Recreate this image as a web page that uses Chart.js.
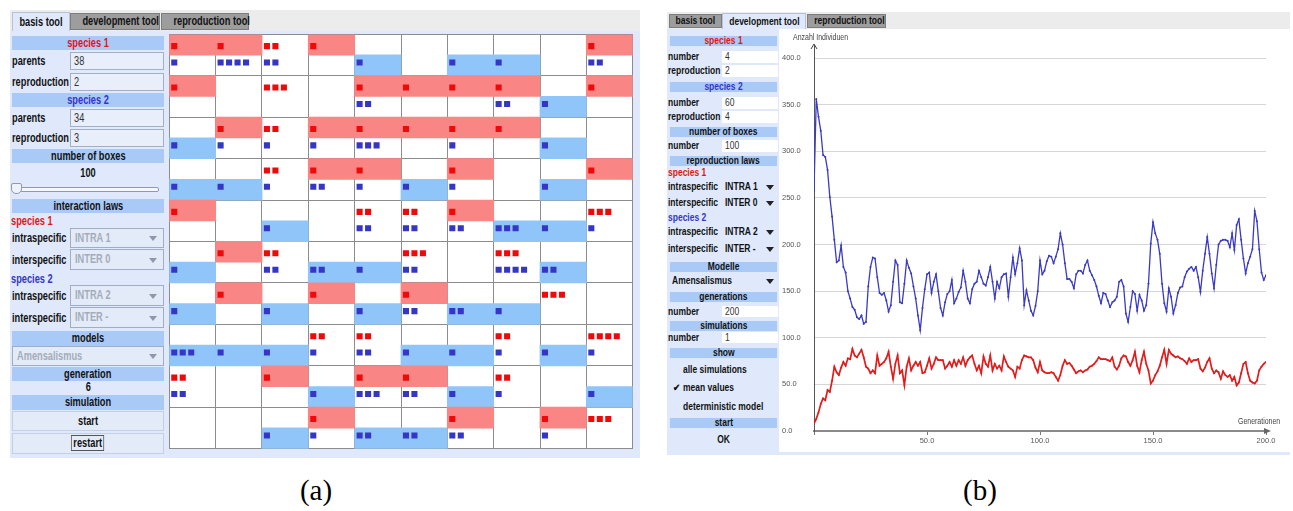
<!DOCTYPE html>
<html><head><meta charset="utf-8">
<script src="https://cdn.jsdelivr.net/npm/chart.js@4.4.1/dist/chart.umd.min.js"></script>
<style>
body{margin:0;width:1293px;height:511px;background:#fff;position:relative;overflow:hidden;
 font-family:"Liberation Sans",Arial,sans-serif;}
.abs{position:absolute;box-sizing:border-box;white-space:nowrap;}
.fa{font-weight:bold;font-size:12px;color:#111;}
.fb{font-weight:bold;font-size:10px;color:#111;}
.hdr{background:#a9c9f7;text-align:center;}
.tab{background:#9d9d9d;border:1px solid #7d7d7d;text-align:center;}
.tabSel{background:#dfe9fb;border:1px solid #b5c1d4;border-bottom:none;text-align:center;}
.inp{background:#e9effa;border:1px solid #a3afc2;font-weight:normal;color:#333;padding-left:3px;}
.inpb{background:#fff;font-weight:normal;color:#333;padding-left:3px;}
.dd{background:#e4ebf8;border:1px solid #a0adc2;color:#a3abb9;padding-left:4px;}
.arr{position:absolute;right:6px;top:50%;margin-top:-2px;width:0;height:0;border-left:4px solid transparent;border-right:4px solid transparent;border-top:5px solid #8e98aa;}
.arrb{position:absolute;right:4px;top:50%;margin-top:-2px;width:0;height:0;border-left:4px solid transparent;border-right:4px solid transparent;border-top:5px solid #222;}
.btn{background:#e3ebf9;border:1px solid #c3cfe2;text-align:center;}
.cap{font-family:"Liberation Serif","DejaVu Serif",serif;font-size:29px;color:#000;text-align:center;}
.tl{font-family:"Liberation Sans",Arial,sans-serif;font-size:8.5px;color:#444;}
.n{display:inline-block;}
</style>
</head><body>

<!-- ============ Panel (a) ============ -->
<div class="abs" style="left:10px;top:10px;width:630px;height:21px;background:#ececec"></div>
<div class="abs fa tabSel" style="left:12px;top:12px;width:58px;height:19px;line-height:18px;">basis tool</div>
<div class="abs fa tab" style="left:70px;top:13px;width:90px;height:17px;line-height:15px;">development tool</div>
<div class="abs fa tab" style="left:161px;top:13px;width:88px;height:17px;line-height:15px;">reproduction tool</div>
<div class="abs" style="left:10px;top:31px;width:630px;height:427px;background:#dfe9fb"></div>

<div class="abs fa hdr" style="left:12px;top:36px;width:152px;height:14px;line-height:14px;color:#e41414;">species 1</div>
<div class="abs fa" style="left:12px;top:52px;height:18px;line-height:18px;">parents</div>
<div class="abs fa inp" style="left:70px;top:52px;width:94px;height:18px;line-height:16px;">38</div>
<div class="abs fa" style="left:12px;top:73px;height:18px;line-height:18px;">reproduction</div>
<div class="abs fa inp" style="left:70px;top:73px;width:94px;height:18px;line-height:16px;">2</div>
<div class="abs fa hdr" style="left:12px;top:93px;width:152px;height:14px;line-height:14px;color:#3535c8;">species 2</div>
<div class="abs fa" style="left:12px;top:109px;height:18px;line-height:18px;">parents</div>
<div class="abs fa inp" style="left:70px;top:109px;width:94px;height:18px;line-height:16px;">34</div>
<div class="abs fa" style="left:12px;top:129px;height:18px;line-height:18px;">reproduction</div>
<div class="abs fa inp" style="left:70px;top:129px;width:94px;height:18px;line-height:16px;">3</div>
<div class="abs fa hdr" style="left:12px;top:149px;width:152px;height:14px;line-height:14px;">number of boxes</div>
<div class="abs fa" style="left:12px;top:166px;width:152px;height:14px;line-height:14px;text-align:center;">100</div>
<div class="abs" style="left:20px;top:187px;width:139px;height:5px;border:1px solid #8f9ab0;background:#f5f7fb;border-radius:2px;"></div>
<div class="abs" style="left:11px;top:183px;width:11px;height:11px;border:1px solid #8f9ab0;background:#eef2f9;border-radius:2px 2px 5px 5px;"></div>
<div class="abs fa hdr" style="left:12px;top:199px;width:152px;height:14px;line-height:14px;">interaction laws</div>
<div class="abs fa" style="left:11px;top:214px;height:14px;line-height:14px;color:#e41414;">species 1</div>
<div class="abs fa" style="left:12px;top:229px;height:19px;line-height:19px;">intraspecific</div>
<div class="abs fa dd" style="left:70px;top:228px;width:94px;height:20px;line-height:18px;">INTRA 1<span class="arr"></span></div>
<div class="abs fa" style="left:12px;top:250px;height:20px;line-height:20px;">interspecific</div>
<div class="abs fa dd" style="left:70px;top:249px;width:94px;height:21px;line-height:19px;">INTER 0<span class="arr"></span></div>
<div class="abs fa" style="left:11px;top:272px;height:14px;line-height:14px;color:#3535c8;">species 2</div>
<div class="abs fa" style="left:12px;top:286px;height:20px;line-height:20px;">intraspecific</div>
<div class="abs fa dd" style="left:70px;top:285px;width:94px;height:21px;line-height:19px;">INTRA 2<span class="arr"></span></div>
<div class="abs fa" style="left:12px;top:308px;height:20px;line-height:20px;">interspecific</div>
<div class="abs fa dd" style="left:70px;top:307px;width:94px;height:21px;line-height:19px;">INTER -<span class="arr"></span></div>
<div class="abs fa hdr" style="left:12px;top:331px;width:152px;height:15px;line-height:15px;">models</div>
<div class="abs fa dd" style="left:12px;top:346px;width:152px;height:20px;line-height:18px;">Amensalismus<span class="arr"></span></div>
<div class="abs fa hdr" style="left:12px;top:367px;width:152px;height:14px;line-height:14px;">generation</div>
<div class="abs fa" style="left:12px;top:381px;width:152px;height:13px;line-height:13px;text-align:center;">6</div>
<div class="abs fa hdr" style="left:12px;top:395px;width:152px;height:15px;line-height:15px;">simulation</div>
<div class="abs fa btn" style="left:12px;top:411px;width:152px;height:20px;line-height:18px;">start</div>
<div class="abs fa btn" style="left:12px;top:433px;width:152px;height:21px;line-height:19px;"><span class="n" style="border:1px solid #555;padding:0 2px;line-height:14px;">restart</span></div>

<canvas id="gridA" class="abs" width="472" height="423" style="left:165px;top:30px;"></canvas>

<!-- ============ Panel (b) ============ -->
<div class="abs" style="left:667px;top:12px;width:623px;height:17px;background:#ececec"></div>
<div class="abs fb tab" style="left:669px;top:14px;width:53px;height:14px;line-height:12px;">basis tool</div>
<div class="abs fb tabSel" style="left:722px;top:13px;width:84px;height:16px;line-height:15px;">development tool</div>
<div class="abs fb tab" style="left:807px;top:14px;width:79px;height:14px;line-height:12px;">reproduction tool</div>
<div class="abs" style="left:667px;top:29px;width:112px;height:426px;background:#dfe9fb"></div>
<div class="abs" style="left:779px;top:452px;width:511px;height:3px;background:#dfe9fb"></div>

<div class="abs fb hdr" style="left:670px;top:36px;width:107px;height:10px;line-height:10px;color:#e41414;">species 1</div>
<div class="abs fb" style="left:668px;top:51px;height:12px;line-height:12px;">number</div>
<div class="abs fb inpb" style="left:722px;top:51px;width:56px;height:12px;line-height:12px;">4</div>
<div class="abs fb" style="left:668px;top:65px;height:12px;line-height:12px;">reproduction</div>
<div class="abs fb inpb" style="left:722px;top:65px;width:56px;height:12px;line-height:12px;">2</div>
<div class="abs fb hdr" style="left:670px;top:82px;width:107px;height:10px;line-height:10px;color:#3535c8;">species 2</div>
<div class="abs fb" style="left:668px;top:97px;height:12px;line-height:12px;">number</div>
<div class="abs fb inpb" style="left:722px;top:97px;width:56px;height:12px;line-height:12px;">60</div>
<div class="abs fb" style="left:668px;top:111px;height:12px;line-height:12px;">reproduction</div>
<div class="abs fb inpb" style="left:722px;top:111px;width:56px;height:12px;line-height:12px;">4</div>
<div class="abs fb hdr" style="left:670px;top:127px;width:107px;height:10px;line-height:10px;">number of boxes</div>
<div class="abs fb" style="left:668px;top:140px;height:12px;line-height:12px;">number</div>
<div class="abs fb inpb" style="left:722px;top:140px;width:56px;height:12px;line-height:12px;">100</div>
<div class="abs fb hdr" style="left:670px;top:156px;width:107px;height:10px;line-height:10px;">reproduction laws</div>
<div class="abs fb" style="left:668px;top:167px;height:11px;line-height:11px;color:#e41414;">species 1</div>
<div class="abs fb" style="left:668px;top:180px;height:13px;line-height:13px;">intraspecific</div>
<div class="abs fb" style="left:722px;top:180px;width:56px;height:13px;line-height:13px;padding-left:3px;">INTRA 1<span class="arrb"></span></div>
<div class="abs fb" style="left:668px;top:196px;height:13px;line-height:13px;">interspecific</div>
<div class="abs fb" style="left:722px;top:196px;width:56px;height:13px;line-height:13px;padding-left:3px;">INTER 0<span class="arrb"></span></div>
<div class="abs fb" style="left:668px;top:212px;height:11px;line-height:11px;color:#3535c8;">species 2</div>
<div class="abs fb" style="left:668px;top:225px;height:13px;line-height:13px;">intraspecific</div>
<div class="abs fb" style="left:722px;top:225px;width:56px;height:13px;line-height:13px;padding-left:3px;">INTRA 2<span class="arrb"></span></div>
<div class="abs fb" style="left:668px;top:242px;height:13px;line-height:13px;">interspecific</div>
<div class="abs fb" style="left:722px;top:242px;width:56px;height:13px;line-height:13px;padding-left:3px;">INTER -<span class="arrb"></span></div>
<div class="abs fb hdr" style="left:670px;top:262px;width:107px;height:10px;line-height:10px;">Modelle</div>
<div class="abs fb" style="left:668px;top:274px;width:110px;height:13px;line-height:13px;padding-left:4px;">Amensalismus<span class="arrb"></span></div>
<div class="abs fb hdr" style="left:670px;top:292px;width:107px;height:10px;line-height:10px;">generations</div>
<div class="abs fb" style="left:668px;top:306px;height:11px;line-height:11px;">number</div>
<div class="abs fb inpb" style="left:722px;top:306px;width:56px;height:11px;line-height:11px;">200</div>
<div class="abs fb hdr" style="left:670px;top:321px;width:107px;height:10px;line-height:10px;">simulations</div>
<div class="abs fb" style="left:668px;top:332px;height:11px;line-height:11px;">number</div>
<div class="abs fb inpb" style="left:722px;top:332px;width:56px;height:11px;line-height:11px;">1</div>
<div class="abs fb hdr" style="left:670px;top:348px;width:107px;height:10px;line-height:10px;">show</div>
<div class="abs fb" style="left:683px;top:363px;height:13px;line-height:13px;">alle simulations</div>
<div class="abs fb" style="left:673px;top:381px;height:13px;line-height:13px;">&#10004;</div>
<div class="abs fb" style="left:683px;top:381px;height:13px;line-height:13px;">mean values</div>
<div class="abs fb" style="left:683px;top:400px;height:13px;line-height:13px;">deterministic model</div>
<div class="abs fb hdr" style="left:670px;top:418px;width:107px;height:10px;line-height:10px;">start</div>
<div class="abs fb" style="left:670px;top:433px;width:107px;height:13px;line-height:13px;text-align:center;">OK</div>

<canvas id="lineB" class="abs" width="511" height="424" style="left:779px;top:28px;"></canvas>
<div class="abs tl" style="left:793px;top:32px;">Anzahl Individuen</div>
<div class="abs tl" style="left:1238px;top:416px;">Generationen</div>

<div class="abs cap" style="left:266px;top:474px;width:100px;">(a)</div>
<div class="abs cap" style="left:930px;top:474px;width:100px;">(b)</div>

<script>
// narrow (condensed) look for UI text: wrap each text run in a horizontally squeezed span
(function () {
  document.querySelectorAll('.fa, .fb, .tl').forEach(el => {
    const sx = el.classList.contains('fa') ? 0.77 : (el.classList.contains('fb') ? 0.85 : 0.82);
    const centered = getComputedStyle(el).textAlign === 'center';
    [...el.childNodes].forEach(nd => {
      let target = null;
      if (nd.nodeType === 3 && nd.textContent.trim()) {
        target = document.createElement('span');
        target.className = 'n';
        target.textContent = nd.textContent;
        el.replaceChild(target, nd);
      } else if (nd.nodeType === 1 && nd.classList.contains('n')) {
        target = nd;
      }
      if (target) {
        target.style.transform = 'scaleX(' + sx + ')';
        target.style.transformOrigin = centered ? '50% 50%' : '0 50%';
      }
    });
  });
})();

// ---------- Panel (a): 10 x 10 boxes, top half species 1, bottom half species 2 ----------
const speciesOneCounts = [
  [1,1,2,1,0,0,0,0,0,1],
  [1,0,3,0,1,1,1,1,0,1],
  [0,1,2,1,1,1,1,1,0,0],
  [0,0,2,1,1,0,1,0,0,1],
  [1,0,0,0,2,2,1,0,0,3],
  [0,1,2,0,0,3,0,3,0,0],
  [0,1,0,1,0,1,0,0,3,0],
  [0,0,0,2,2,0,0,2,0,4],
  [2,0,1,0,1,1,0,2,0,0],
  [0,0,0,1,0,0,1,0,1,3]
];
const speciesOneShaded = [
  [1,1,0,1,0,0,0,0,0,1],
  [1,0,0,0,1,1,1,1,0,1],
  [0,1,0,1,1,1,1,1,0,0],
  [0,0,0,1,1,0,1,0,0,1],
  [1,0,0,0,0,0,1,0,0,0],
  [0,1,0,0,0,0,0,0,0,0],
  [0,1,0,1,0,1,0,0,0,0],
  [0,0,0,0,0,0,0,0,0,0],
  [0,0,1,0,1,1,0,0,0,0],
  [0,0,0,1,0,0,1,0,1,0]
];
const speciesTwoCounts = [
  [1,4,2,0,1,0,1,1,0,2],
  [0,0,0,0,2,0,0,2,1,0],
  [1,1,1,1,3,0,1,0,1,0],
  [1,1,1,2,1,1,1,0,1,0],
  [0,0,1,0,2,2,2,3,1,1],
  [1,0,2,2,1,2,0,4,2,0],
  [1,0,1,0,1,2,2,1,0,0],
  [3,1,1,1,2,1,1,1,1,1],
  [2,0,0,1,3,2,1,1,0,1],
  [0,0,1,1,2,2,2,0,1,0]
];
const speciesTwoShaded = [
  [0,0,0,0,1,0,1,1,0,0],
  [0,0,0,0,0,0,0,0,1,0],
  [1,0,0,0,0,0,0,0,1,0],
  [1,1,0,0,0,1,0,0,1,0],
  [0,0,1,0,0,0,0,1,1,0],
  [1,0,0,1,1,0,0,0,1,0],
  [1,0,1,0,1,0,1,1,0,0],
  [1,1,1,0,0,1,1,0,1,0],
  [0,0,0,1,0,0,1,0,0,1],
  [0,0,1,0,1,1,0,0,0,0]
];

// ---------- Panel (b): mean population per generation ----------
const speciesTwoMean = [
258,356,337,322,296,294,280,251,230,205,
181,183,199,176,170,150,142,133,130,122,
120,124,115,117,155,176,186,185,165,148,
146,148,140,128,135,160,183,178,138,137,
158,183,175,169,155,142,124,108,132,152,
168,170,148,160,168,150,132,124,138,147,
150,162,137,142,149,154,172,160,142,137,
152,158,160,172,165,158,156,165,176,160,
142,160,153,165,168,169,144,165,186,168,
180,196,183,135,151,140,129,124,134,150,
183,168,172,182,188,187,180,187,195,212,
200,180,163,163,160,153,168,172,172,169,
178,183,172,167,162,155,145,137,148,147,
140,133,138,140,144,160,162,155,126,117,
133,150,147,129,146,140,129,135,158,201,
224,212,205,190,158,137,128,153,144,126,
135,148,154,155,165,171,174,176,172,176,
165,149,172,190,208,190,169,153,178,200,
204,205,205,204,197,212,194,221,227,205,
185,169,180,187,195,236,225,195,170,162,
167];
const speciesOneMean = [
8,13,20,29,35,33,44,42,54,69,
63,60,68,74,70,78,77,88,81,79,
83,87,79,69,67,62,65,62,81,70,
72,74,78,85,69,56,72,81,62,65,
49,69,78,65,70,74,70,74,62,63,
70,78,67,72,79,76,76,76,67,70,
74,69,76,70,76,72,79,70,76,79,
81,72,65,70,62,80,72,69,81,65,
72,67,70,65,80,74,69,67,65,58,
69,67,76,81,80,79,79,76,68,63,
74,65,63,62,62,63,62,58,54,60,
70,76,72,73,70,66,62,64,65,63,
65,66,69,70,72,75,79,77,77,77,
76,75,79,69,66,70,78,81,80,74,
70,76,85,70,63,76,85,72,65,51,
54,60,64,70,79,87,72,87,83,81,
79,80,78,77,75,72,78,74,76,76,
77,67,64,68,74,78,67,62,65,63,
56,64,60,58,60,54,58,49,52,62,
72,74,62,54,52,51,54,65,69,72,
74];
const generations = speciesOneMean.map((_, i) => i);
const yTickStep = 50;
const xTickStep = 50;

// ---------- build panel (a) ----------
const pinkBands = [], blueBands = [], redSquares = [], blueSquares = [];
for (let r = 0; r < 10; r++) {
  for (let c = 0; c < 10; c++) {
    if (speciesOneShaded[r][c]) pinkBands.push({x: c + 0.5, y: [r, r + 0.5]});
    if (speciesTwoShaded[r][c]) blueBands.push({x: c + 0.5, y: [r + 0.5, r + 1]});
    for (let k = 0; k < speciesOneCounts[r][c]; k++) redSquares.push({x: c + 0.107 + k * 0.183, y: r + 0.285});
    for (let k = 0; k < speciesTwoCounts[r][c]; k++) blueSquares.push({x: c + 0.107 + k * 0.183, y: r + 0.68});
  }
}
const whiteBg = {
  id: 'whiteBg',
  beforeDraw(chart) {
    const {ctx, chartArea: a} = chart;
    ctx.save(); ctx.fillStyle = '#fff'; ctx.fillRect(a.left, a.top, a.right - a.left, a.bottom - a.top); ctx.restore();
  }
};
const bandOpts = {type: 'bar', grouped: false, barPercentage: 1, categoryPercentage: 1, borderWidth: 0, inflateAmount: 0.4};
const sqOpts = {type: 'scatter', pointStyle: 'rect', pointRadius: 4.3, pointHoverRadius: 4.3, borderWidth: 0};
new Chart(document.getElementById('gridA'), {
  type: 'scatter',
  data: {datasets: [
    Object.assign({data: pinkBands, backgroundColor: '#fa8585', order: 3}, bandOpts),
    Object.assign({data: blueBands, backgroundColor: '#8fc5f8', order: 3}, bandOpts),
    Object.assign({data: redSquares, backgroundColor: '#ee0a0a', pointBackgroundColor: '#ee0a0a', order: 1}, sqOpts),
    Object.assign({data: blueSquares, backgroundColor: '#3636c6', pointBackgroundColor: '#3636c6', order: 1}, sqOpts)
  ]},
  options: {
    responsive: false, animation: false, events: [], devicePixelRatio: 1,
    layout: {padding: 1},
    plugins: {legend: {display: false}, tooltip: {enabled: false}},
    scales: {
      x: {type: 'linear', min: 0, max: 10, offset: false, z: 1,
          ticks: {display: false, stepSize: 1},
          grid: {color: '#8c8c8c', drawTicks: false, offset: false},
          border: {color: '#8c8c8c'}},
      y: {type: 'linear', min: 0, max: 10, reverse: true, z: 1,
          ticks: {display: false, stepSize: 1},
          grid: {color: '#8c8c8c', drawTicks: false},
          border: {color: '#8c8c8c'}}
    }
  },
  plugins: [whiteBg]
});

// ---------- build panel (b) ----------
const axisArrows = {
  id: 'axisArrows',
  afterDraw(chart) {
    const {ctx, chartArea: a} = chart;
    ctx.save();
    ctx.strokeStyle = '#444'; ctx.lineWidth = 1;
    ctx.beginPath();
    ctx.moveTo(a.left - 3, a.top + 4); ctx.lineTo(a.left, a.top - 1); ctx.lineTo(a.left + 3, a.top + 4);
    ctx.stroke();
    ctx.fillStyle = '#666';
    ctx.beginPath();
    ctx.moveTo(a.right + 5, a.bottom); ctx.lineTo(a.right - 2, a.bottom - 3); ctx.lineTo(a.right - 2, a.bottom + 3); ctx.closePath(); ctx.fill();
    ctx.restore();
  }
};
const tickFont = {family: '"Liberation Sans", Arial, sans-serif', size: 7.5};
new Chart(document.getElementById('lineB'), {
  type: 'line',
  data: {labels: generations, datasets: [
    {data: speciesTwoMean, borderColor: '#3a3ac4', backgroundColor: '#3a3ac4', borderWidth: 1.3, pointRadius: 1, pointBorderWidth: 0, tension: 0},
    {data: speciesOneMean, borderColor: '#e31b1b', backgroundColor: '#e31b1b', borderWidth: 1.7, pointRadius: 0.9, pointBorderWidth: 0, tension: 0}
  ]},
  options: {
    responsive: false, animation: false, events: [], devicePixelRatio: 1,
    layout: {padding: {left: 3, right: 24, top: 17, bottom: 0}},
    plugins: {legend: {display: false}, tooltip: {enabled: false}},
    scales: {
      x: {type: 'linear', min: 0, max: 200,
          ticks: {stepSize: xTickStep, maxRotation: 0, autoSkip: false, padding: 1, color: '#555', font: tickFont,
                  callback: v => v === 0 ? '' : v.toFixed(1)},
          grid: {drawOnChartArea: false, tickLength: 4, color: '#777'},
          border: {color: '#8a8a8a', width: 2},
          afterFit: s => { s.height = 21; }},
      y: {type: 'linear', min: 0, max: 414,
          ticks: {stepSize: yTickStep, includeBounds: false, crossAlign: 'far', color: '#555', font: tickFont,
                  callback: v => v.toFixed(1)},
          grid: {color: '#d6d6d6', drawTicks: false},
          border: {color: '#555', width: 1},
          afterFit: s => { s.width = 32; }}
    }
  },
  plugins: [axisArrows]
});
</script>
</body></html>
